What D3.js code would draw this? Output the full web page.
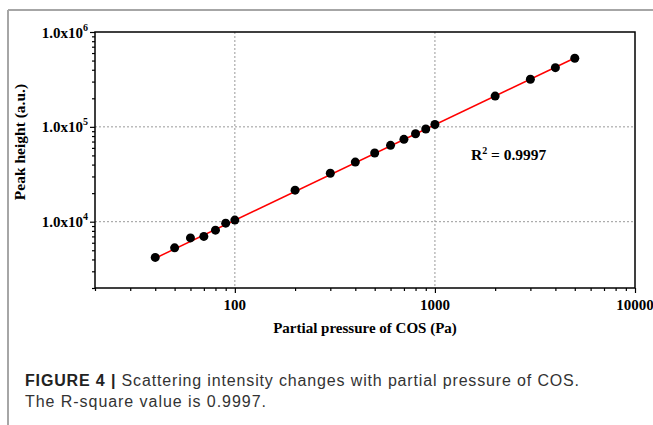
<!DOCTYPE html>
<html>
<head>
<meta charset="utf-8">
<script src="https://cdn.jsdelivr.net/npm/d3@7"></script>
<style>
  body { margin: 0; background: #fff; }
  svg { display: block; }
</style>
</head>
<body>
<div id="chart-area"></div>
<script>
// data
var pressure = [40, 50, 60, 70, 80, 90, 100, 200, 300, 400, 500, 600, 700, 800, 900, 1000, 2000, 3000, 4000, 5000];
var peak = [4200, 5300, 6750, 7000, 8150, 9650, 10400, 21500, 32400, 42500, 53000, 63800, 73800, 84500, 94900, 106000, 211000, 318000, 421000, 529000];
var fitX = [40, 5000];
var fitY = [4120, 532000];
var xTickLabels = [100, 1000, 10000];
var yTickExps = [4, 5, 6];
var r2Text = "0.9997";

var margin = { left: 95, right: 18, top: 32, bottom: 137 };
var width = 653 - margin.left - margin.right;
var height = 425 - margin.top - margin.bottom;
var serif = "Liberation Serif, Times New Roman, serif";

var svg = d3.select("#chart-area").append("svg")
    .attr("width", 653)
    .attr("height", 425);

// figure frame (gray)
svg.append("line").attr("x1", 8).attr("x2", 653).attr("y1", 10).attr("y2", 10)
    .attr("stroke", "#a6a6a6").attr("stroke-width", 2);
svg.append("line").attr("x1", 8).attr("x2", 8).attr("y1", 10).attr("y2", 425)
    .attr("stroke", "#a6a6a6").attr("stroke-width", 2);

var g = svg.append("g")
    .attr("transform", "translate(" + margin.left + ", " + margin.top + ")");

var x = d3.scaleLog().domain([20, 10000]).range([0, width]);
var y = d3.scaleLog().domain([2000, 1000000]).range([height, 0]);

// log ticks incl. minors
var xTicks = [];
[10, 100, 1000].forEach(function (d) {
    for (var k = 1; k <= 10; k++) {
        var v = d * k;
        if (v >= 20 && v <= 10000 && xTicks.indexOf(v) < 0) xTicks.push(v);
    }
});
var yTicks = [];
[1000, 10000, 100000].forEach(function (d) {
    for (var k = 1; k <= 10; k++) {
        var v = d * k;
        if (v >= 2000 && v <= 1000000 && yTicks.indexOf(v) < 0) yTicks.push(v);
    }
});
function isMajor(v) { return Math.abs(Math.log10(v) - Math.round(Math.log10(v))) < 1e-9; }

// grid
g.selectAll(".vgrid").data([100, 1000]).enter().append("line")
    .attr("x1", function (d) { return x(d); }).attr("x2", function (d) { return x(d); })
    .attr("y1", 0).attr("y2", height)
    .attr("stroke", "#999").attr("stroke-width", 1).attr("stroke-dasharray", "2,2");
g.selectAll(".hgrid").data([10000, 100000]).enter().append("line")
    .attr("x1", 0).attr("x2", width)
    .attr("y1", function (d) { return y(d); }).attr("y2", function (d) { return y(d); })
    .attr("stroke", "#999").attr("stroke-width", 1).attr("stroke-dasharray", "2,2");

// axes
var xAxis = d3.axisBottom(x).tickValues(xTicks).tickFormat("").tickSizeOuter(0);
var xaxg = g.append("g")
    .attr("class", "x-axis")
    .attr("transform", "translate(0, " + height + ")")
    .call(xAxis);
xaxg.select(".domain").remove();
xaxg.selectAll(".tick line")
    .attr("y2", function (d) { return isMajor(d) ? 5 : 3; })
    .attr("stroke-width", 1.2);

var yAxis = d3.axisLeft(y).tickValues(yTicks).tickFormat("").tickSizeOuter(0);
var yaxg = g.append("g")
    .attr("class", "y-axis")
    .call(yAxis);
yaxg.select(".domain").remove();
yaxg.selectAll(".tick line")
    .attr("x2", function (d) { return isMajor(d) ? -5 : -3; })
    .attr("stroke-width", 1.2);

// box
g.append("rect")
    .attr("width", width).attr("height", height)
    .attr("fill", "none").attr("stroke", "#000").attr("stroke-width", 1.5);

// tick labels
g.selectAll(".xlab").data(xTickLabels).enter().append("text")
    .attr("x", function (d) { return x(d); })
    .attr("y", height + 22)
    .attr("text-anchor", "middle")
    .attr("font-family", serif)
    .attr("font-weight", "bold")
    .attr("font-size", "15px")
    .text(function (d) { return d; });

var ylab = g.selectAll(".ylab").data(yTickExps).enter().append("text")
    .attr("x", -7)
    .attr("y", function (d) { return y(Math.pow(10, d)) + 5.5; })
    .attr("text-anchor", "end")
    .attr("font-family", serif)
    .attr("font-weight", "bold")
    .attr("font-size", "15px");
ylab.append("tspan").text("1.0x10");
ylab.append("tspan").attr("dy", -7).attr("font-size", "10px")
    .text(function (d) { return d; });

// axis titles
g.append("text")
    .attr("x", width / 2)
    .attr("y", height + 45)
    .attr("text-anchor", "middle")
    .attr("font-family", serif)
    .attr("font-weight", "bold")
    .attr("font-size", "15px")
    .text("Partial pressure of COS (Pa)");
g.append("text")
    .attr("transform", "rotate(-90)")
    .attr("x", -110)
    .attr("y", -70)
    .attr("text-anchor", "middle")
    .attr("font-family", serif)
    .attr("font-weight", "bold")
    .attr("font-size", "15.5px")
    .text("Peak height (a.u.)");

// fit line
var fit = fitX.map(function (d, i) { return [d, fitY[i]]; });
g.append("path")
    .datum(fit)
    .attr("fill", "none")
    .attr("stroke", "#ff0000")
    .attr("stroke-width", 1.5)
    .attr("d", d3.line().x(function (d) { return x(d[0]); }).y(function (d) { return y(d[1]); }));

// points
g.selectAll("circle").data(pressure).enter().append("circle")
    .attr("cx", function (d) { return x(d); })
    .attr("cy", function (d, i) { return y(peak[i]); })
    .attr("r", 4.5)
    .attr("fill", "#000");

// R^2 annotation
var r2 = g.append("text")
    .attr("x", x(1000) + 36)
    .attr("y", y(100000) + 33)
    .attr("font-family", serif)
    .attr("font-weight", "bold")
    .attr("font-size", "15.5px");
r2.append("tspan").text("R");
r2.append("tspan").attr("dy", -6).attr("font-size", "10px").text("2");
r2.append("tspan").attr("dy", 6).text(" = " + r2Text);

// caption
var cap = svg.append("text")
    .attr("x", 25)
    .attr("y", 386)
    .attr("font-family", "Liberation Sans, Arial, sans-serif")
    .attr("font-size", "16px")
    .attr("letter-spacing", "0.85px")
    .attr("fill", "#333");
cap.append("tspan").attr("font-weight", "bold").attr("fill", "#222").text("FIGURE 4 | ");
cap.append("tspan").text("Scattering intensity changes with partial pressure of COS.");
svg.append("text")
    .attr("x", 25)
    .attr("y", 407)
    .attr("font-family", "Liberation Sans, Arial, sans-serif")
    .attr("font-size", "16px")
    .attr("letter-spacing", "0.95px")
    .attr("fill", "#333")
    .text("The R-square value is 0.9997.");
</script>
</body>
</html>
